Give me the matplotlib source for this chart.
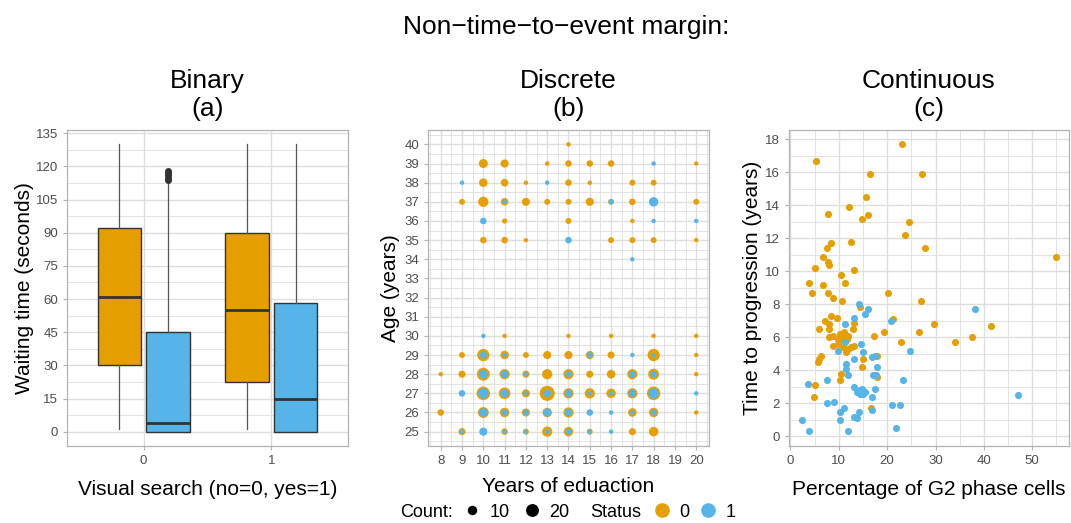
import numpy as np
import matplotlib
matplotlib.use("Agg")
import matplotlib.pyplot as plt
from matplotlib.lines import Line2D
from matplotlib.ticker import MultipleLocator

plt.rcParams['font.family'] = ['Liberation Sans', 'DejaVu Sans']

ORANGE = '#E69F00'
BLUE = '#56B4E9'
BORDER = '#B3B3B3'
GRID = '#DEDEDE'
TICKTXT = '#4D4D4D'

# (a) waiting time box summaries, order: (search 0, status 0), (0, 1), (1, 0), (1, 1)
box_search = [0, 0, 1, 1]
box_status = [0, 1, 0, 1]
wait_low = [1, 0, 1, 0]
wait_q1 = [30, 0, 22.5, 0]
wait_med = [61, 4, 55, 15]
wait_q3 = [92, 45, 90, 58]
wait_high = [130, 112, 130, 130]
wait_out = [[], [114, 115, 116, 117, 118], [], []]

# (b) counts by years of education and age, status 0
edu_0 = [14, 10, 11, 13, 14, 15, 16, 20,
         10, 11, 12, 14, 15, 17, 18,
         9, 10, 11, 12, 13, 14, 15, 16, 17, 20,
         11, 14, 17,
         10, 11, 12, 16, 17, 18, 20,
         11, 14, 16, 18, 20,
         9, 10, 11, 12, 13, 14, 15, 16, 18, 20,
         8, 9, 10, 11, 12, 13, 14, 15, 16, 17, 18, 20,
         10, 11, 12, 13, 14, 15, 16, 17, 18,
         8, 10, 11, 12, 13, 14, 17, 18, 20,
         9, 11, 12, 13, 14, 15, 17, 18]
age_0 = [40, 39, 39, 39, 39, 39, 39, 39,
         38, 38, 38, 38, 38, 38, 38,
         37, 37, 37, 37, 37, 37, 37, 37, 37, 37,
         36, 36, 36,
         35, 35, 35, 35, 35, 35, 35,
         30, 30, 30, 30, 30,
         29, 29, 29, 29, 29, 29, 29, 29, 29, 29,
         28, 28, 28, 28, 28, 28, 28, 28, 28, 28, 28, 28,
         27, 27, 27, 27, 27, 27, 27, 27, 27,
         26, 26, 26, 26, 26, 26, 26, 26, 26,
         25, 25, 25, 25, 25, 25, 25, 25]
n_0 = [1, 9, 7, 1, 4, 4, 4, 1,
       8, 6, 1, 4, 1, 3, 3,
       3, 12, 6, 7, 3, 3, 7, 3, 4, 3,
       2, 3, 1,
       4, 4, 1, 3, 3, 3, 1,
       1, 1, 1, 1, 1,
       3, 18, 8, 3, 7, 7, 7, 5, 18, 1,
       1, 5, 20, 12, 5, 12, 12, 5, 8, 12, 14, 1,
       22, 16, 7, 28, 12, 12, 10, 12, 22,
       4, 14, 10, 7, 10, 12, 8, 10, 1,
       5, 4, 3, 12, 10, 3, 5, 10]

# (b) status 1
edu_1 = [18, 9, 13, 11, 16, 18, 10, 18, 20, 14, 17,
         10,
         10, 11, 15, 17, 18,
         10, 11, 12, 14, 17, 18,
         9, 10, 11, 12, 13, 14, 15, 16, 17, 18, 20,
         10, 11, 12, 13, 14, 15, 16, 17, 18,
         9, 10, 11, 12, 13, 14, 15, 16]
age_1 = [39, 38, 38, 37, 37, 37, 36, 36, 36, 35, 34,
         30,
         29, 29, 29, 29, 29,
         28, 28, 28, 28, 28, 28,
         27, 27, 27, 27, 27, 27, 27, 27, 27, 27, 27,
         26, 26, 26, 26, 26, 26, 26, 26, 26,
         25, 25, 25, 25, 25, 25, 25, 25]
n_1 = [1, 1, 1, 1, 2, 10, 4, 1, 1, 4, 1,
       1,
       5, 1, 3, 1, 1,
       8, 6, 1, 3, 4, 4,
       4, 12, 7, 1, 6, 6, 1, 1, 6, 12, 1,
       8, 3, 3, 7, 6, 4, 1, 1, 3,
       1, 7, 1, 1, 1, 3, 1, 1]

# (c) G2 phase percentage vs time to progression
g2_0 = [5.2, 23.0, 16.5, 27.2, 15.6, 7.7, 12.1, 14.7, 16.0, 24.6, 23.6, 12.6,
        8.4, 7.6, 27.8, 6.8, 7.8, 8.0, 5.1, 13.2, 10.5, 3.8, 11.2, 6.8, 4.4,
        7.7, 20.2, 8.8, 10.7, 27.1, 14.4, 54.9, 41.4, 29.6, 21.2, 9.7, 8.4,
        7.2, 13.2, 6.0, 7.9, 8.0, 12.9, 17.2, 19.3, 26.5, 37.5, 34.0, 22.8,
        7.9, 8.9, 10.2, 11.0, 11.3, 12.0, 9.8, 10.5, 11.7, 8.9, 9.9, 10.8,
        11.5, 12.0, 12.6, 13.2, 6.4, 6.0, 5.7, 5.1, 4.8, 10.5, 10.3, 15.1,
        14.7, 17.9, 17.9, 16.6]
prog_0 = [16.7, 17.7, 15.9, 15.9, 14.5, 13.5, 13.9, 13.2, 13.4, 13.0, 12.2, 11.8,
          11.7, 11.4, 11.4, 10.9, 10.6, 10.4, 10.2, 10.1, 9.8, 9.3, 9.3, 9.2, 8.7,
          8.7, 8.7, 8.4, 8.2, 8.2, 7.85, 10.9, 6.7, 6.8, 7.1, 7.2, 7.3,
          7.0, 6.9, 6.5, 6.8, 6.5, 6.5, 6.1, 6.3, 6.3, 6.0, 5.7, 5.7,
          6.0, 6.1, 6.2, 6.3, 6.1, 6.1, 5.9, 5.9, 5.9, 5.5, 5.6, 5.4,
          5.1, 5.3, 5.4, 5.5, 4.9, 4.7, 4.5, 3.1, 2.4, 3.8, 3.4, 4.7,
          4.2, 4.9, 3.6, 1.7]

g2_1 = [2.3, 3.8, 3.6, 7.6, 7.5, 9.0, 10.2, 11.1, 10.2, 11.9, 13.2, 13.7,
        14.1, 13.2, 13.7, 14.4, 14.8, 15.1, 14.3, 15.4, 16.8, 17.5, 16.8,
        21.1, 22.6, 21.8, 23.3, 24.8, 47.0, 38.1, 20.8, 14.1, 16.1, 15.4,
        13.2, 11.2, 11.3, 9.9, 14.6, 14.9, 13.2, 11.4, 11.5, 11.8, 16.9,
        17.5, 17.8, 17.1, 17.6]
prog_1 = [1.0, 0.3, 3.2, 3.4, 2.0, 2.1, 1.5, 1.7, 1.0, 0.3, 1.2, 1.1,
          1.5, 3.0, 2.7, 2.8, 2.9, 2.6, 2.6, 2.7, 2.4, 2.9, 1.6,
          1.9, 1.9, 0.5, 3.4, 5.2, 2.5, 7.7, 7.0, 8.0, 7.7, 7.4,
          7.2, 6.8, 5.7, 5.2, 5.6, 5.1, 4.7, 4.4, 4.1, 3.7, 4.8,
          4.9, 4.2, 3.7, 3.7]


def dot_size(n):
    return 4.0 * np.asarray(n, dtype=float) + 6


def style_axes(ax):
    for sp in ax.spines.values():
        sp.set_color(BORDER)
        sp.set_linewidth(0.9)
    ax.tick_params(which='major', colors=BORDER, labelcolor=TICKTXT,
                   labelsize=9.5, length=3, width=0.8)
    ax.tick_params(which='minor', length=0)
    ax.grid(True, which='major', color=GRID, linewidth=1.0)
    ax.grid(True, which='minor', color=GRID, linewidth=0.6)
    ax.set_axisbelow(True)


TITLE_KW = dict(fontsize=19, linespacing=1.2, pad=10)
LABEL_SIZE = 15
LEG_SIZE = 13

fig = plt.figure(figsize=(10.71, 5.23), dpi=100)

bottom, height = 0.1472, 0.6042
ax_a = fig.add_axes([0.0626, bottom, 0.2623, height])
ax_b = fig.add_axes([0.3996, bottom, 0.2624, height])
ax_c = fig.add_axes([0.7367, bottom, 0.2614, height])

# (a) boxplots
stats = []
positions = []
for i in range(len(box_search)):
    stats.append(dict(whislo=wait_low[i], q1=wait_q1[i], med=wait_med[i],
                      q3=wait_q3[i], whishi=wait_high[i], fliers=wait_out[i]))
    positions.append(box_search[i] + (0.19 if box_status[i] == 1 else -0.19))
bp = ax_a.bxp(stats, positions=positions, widths=0.34, patch_artist=True,
              showcaps=False,
              boxprops=dict(edgecolor='#333333', linewidth=1.0),
              medianprops=dict(color='#333333', linewidth=2.0),
              whiskerprops=dict(color='#555555', linewidth=0.9),
              flierprops=dict(marker='o', markerfacecolor='#333333',
                              markeredgecolor='#333333', markersize=4))
for patch, st in zip(bp['boxes'], box_status):
    patch.set_facecolor(BLUE if st == 1 else ORANGE)
ax_a.set_xlim(-0.6, 1.6)
ax_a.set_ylim(-6.5, 136.5)
ax_a.set_xticks([0, 1])
ax_a.set_xticklabels(['0', '1'])
ax_a.yaxis.set_major_locator(MultipleLocator(15))
ax_a.yaxis.set_minor_locator(MultipleLocator(7.5))
style_axes(ax_a)
ax_a.set_title('Binary\n(a)', **TITLE_KW)
ax_a.set_xlabel('Visual search (no=0, yes=1)', fontsize=LABEL_SIZE, labelpad=9)
ax_a.set_ylabel('Waiting time (seconds)', fontsize=LABEL_SIZE, labelpad=1)

# (b) bubble grid, status 1 drawn over status 0
ax_b.scatter(edu_0, age_0, s=dot_size(n_0), color=ORANGE, linewidths=0, zorder=3)
ax_b.scatter(edu_1, age_1, s=dot_size(n_1), color=BLUE, linewidths=0, zorder=4)
ax_b.set_xlim(7.4, 20.6)
ax_b.set_ylim(24.25, 40.75)
ax_b.xaxis.set_major_locator(MultipleLocator(1))
ax_b.xaxis.set_minor_locator(MultipleLocator(0.5))
ax_b.yaxis.set_major_locator(MultipleLocator(1))
ax_b.yaxis.set_minor_locator(MultipleLocator(0.5))
style_axes(ax_b)
ax_b.set_title('Discrete\n(b)', **TITLE_KW)
ax_b.set_xlabel('Years of eduaction', fontsize=LABEL_SIZE, labelpad=7)
ax_b.set_ylabel('Age (years)', fontsize=LABEL_SIZE, labelpad=3)

# (c) scatter
ax_c.scatter(g2_0, prog_0, s=26, color=ORANGE, linewidths=0, zorder=3)
ax_c.scatter(g2_1, prog_1, s=26, color=BLUE, linewidths=0, zorder=4)
ax_c.set_xlim(-0.3, 57.6)
ax_c.set_ylim(-0.58, 18.57)
ax_c.xaxis.set_major_locator(MultipleLocator(10))
ax_c.xaxis.set_minor_locator(MultipleLocator(5))
ax_c.yaxis.set_major_locator(MultipleLocator(2))
ax_c.yaxis.set_minor_locator(MultipleLocator(1))
style_axes(ax_c)
ax_c.set_title('Continuous\n(c)', **TITLE_KW)
ax_c.set_xlabel('Percentage of G2 phase cells', fontsize=LABEL_SIZE, labelpad=9)
ax_c.set_ylabel('Time to progression (years)', fontsize=LABEL_SIZE, labelpad=2)

fig.text(0.5285, 0.948, 'Non\u2212time\u2212to\u2212event margin:', fontsize=19,
         ha='center', va='center')

# bottom legend
leg_y = 0.021
fig.text(400 / 1071, leg_y, 'Count:', fontsize=LEG_SIZE, ha='left', va='center')
count_handles = [Line2D([], [], ls='', marker='o', color='black', markeredgewidth=0,
                        markersize=np.sqrt(dot_size(v))) for v in (10, 20)]
fig.legend(count_handles, ['10', '20'], ncol=2, loc='center left',
           bbox_to_anchor=(466 / 1071, leg_y), frameon=False, fontsize=LEG_SIZE,
           handlelength=0.7, handletextpad=0.6, columnspacing=0.87, borderpad=0,
           borderaxespad=0)
fig.text(590 / 1071, leg_y, 'Status', fontsize=LEG_SIZE, ha='left', va='center')
status_handles = [Line2D([], [], ls='', marker='o', color=c, markeredgewidth=0,
                         markersize=10.5) for c in (ORANGE, BLUE)]
fig.legend(status_handles, ['0', '1'], ncol=2, loc='center left',
           bbox_to_anchor=(655 / 1071, leg_y), frameon=False, fontsize=LEG_SIZE,
           handlelength=0.8, handletextpad=0.55, columnspacing=0.65, borderpad=0,
           borderaxespad=0)

fig.savefig('out.png', dpi=100)
